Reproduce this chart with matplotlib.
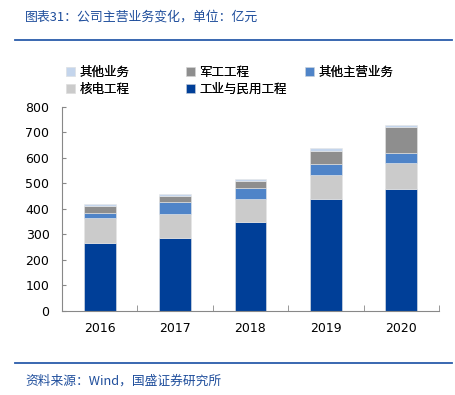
import matplotlib.pyplot as plt
from matplotlib.lines import Line2D

plt.rcParams['font.family'] = ['DejaVu Sans', 'Noto Sans CJK SC']

years = ['2016', '2017', '2018', '2019', '2020']
industrial = [265, 285, 347, 440, 478]   # 工业与民用工程
nuclear = [99, 96, 92, 92, 103]          # 核电工程
other_main = [21, 46, 42, 44, 38]        # 其他主营业务
military = [26, 23, 29, 52, 101]         # 军工工程
other = [7, 8, 7, 11, 9]                 # 其他业务

series = [
    ('工业与民用工程', industrial, '#003f98'),
    ('核电工程', nuclear, '#cbcbcb'),
    ('其他主营业务', other_main, '#4f84c8'),
    ('军工工程', military, '#8e8e8e'),
    ('其他业务', other, '#c4d5ec'),
]

fig = plt.figure(figsize=(4.56, 3.95), dpi=100)
ax = fig.add_axes([62 / 456, 1 - 310.7 / 395, 377 / 456, 203.7 / 395])

x = list(range(len(years)))
bottom = [0] * len(years)
handles = {}
for name, vals, color in series:
    b = ax.bar(x, vals, 0.42, bottom=bottom, color=color,
               edgecolor='#e6e6e6', linewidth=0.4, label=name)
    handles[name] = b
    bottom = [bo + v for bo, v in zip(bottom, vals)]

ax.set_xlim(-0.5, len(years) - 0.5)
ax.set_ylim(0, 800)
ax.set_yticks(range(0, 801, 100))
ax.set_xticks(x)
ax.set_xticklabels(years)
ax.set_xticks([i + 0.5 for i in range(-1, len(years))], minor=True)
ax.tick_params(axis='x', which='major', length=0, pad=8, labelsize=9)
ax.tick_params(axis='x', which='minor', direction='in', length=4, color='#888888')
ax.tick_params(axis='y', direction='in', length=3, color='#888888', labelsize=9, pad=9)
for s in ['top', 'right']:
    ax.spines[s].set_visible(False)
for s in ['left', 'bottom']:
    ax.spines[s].set_color('#888888')
    ax.spines[s].set_linewidth(0.8)

# legend: three columns placed at fixed positions like the original
columns = [(['其他业务', '核电工程'], 66), (['军工工程', '工业与民用工程'], 186),
           (['其他主营业务'], 305)]
for names, xpos in columns:
    leg = fig.legend([handles[n] for n in names], names, frameon=False,
                     loc='upper left', bbox_to_anchor=(xpos / 456, 1 - 66 / 395),
                     prop={'family': 'Noto Sans CJK SC', 'size': 9},
                     handlelength=0.75, handleheight=0.75, handletextpad=0.3,
                     labelspacing=0.3, borderpad=0, borderaxespad=0)
    fig.add_artist(leg)

# header / footer
fig.text(25 / 456, 1 - 17 / 395, '图表31：公司主营业务变化，单位：亿元', color='#1f4e9c',
         fontsize=9.3, family=['Noto Sans CJK SC'], va='center', style='italic')
fig.add_artist(Line2D([15 / 456, 452 / 456], [1 - 40 / 395] * 2, color='#2a5caa', lw=1.3))
fig.add_artist(Line2D([15 / 456, 452 / 456], [1 - 363 / 395] * 2, color='#2a5caa', lw=1.3))
fig.text(25 / 456, 1 - 381 / 395, '资料来源：Wind，国盛证券研究所', color='#1f4e9c',
         fontsize=9.2, family=['Noto Sans CJK SC', 'DejaVu Sans'], va='center', style='italic')

fig.savefig('out.png', dpi=100)
